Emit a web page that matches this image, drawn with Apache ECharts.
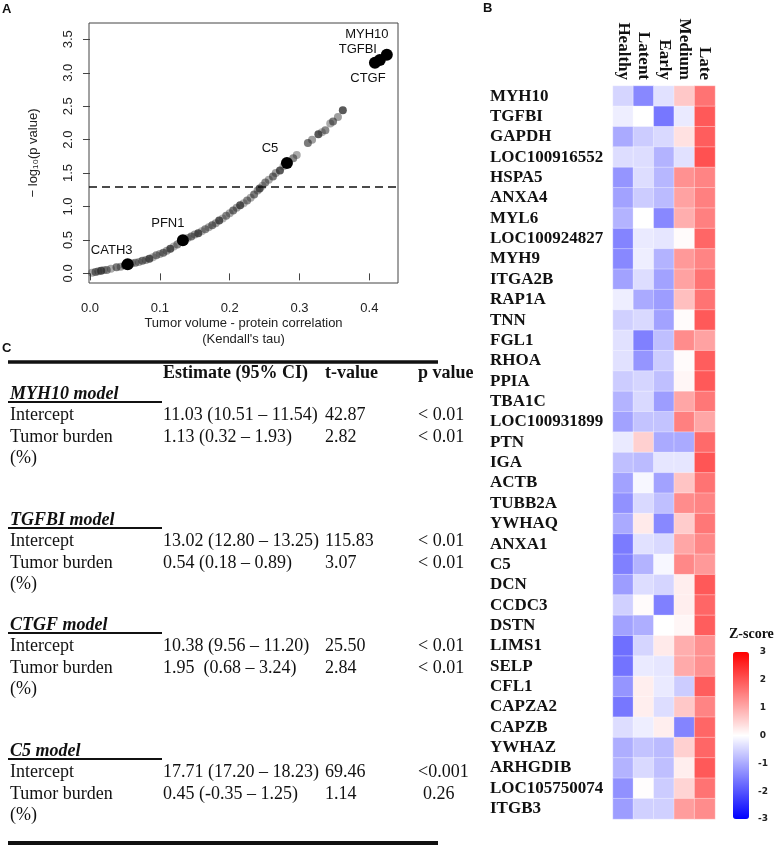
<!DOCTYPE html>
<html>
<head>
<meta charset="utf-8">
<script src="https://cdn.jsdelivr.net/npm/echarts@6/dist/echarts.min.js"></script>
<style>
html,body{margin:0;padding:0;background:#fff;}
#chart{width:776px;height:845px;}
</style>
</head>
<body>
<div id="chart"></div>
<script>
// ---------- Panel A data ----------
const scatterX = [0.003,0.008,0.012,0.016,0.020,0.024,0.030,0.038,0.044,0.050,0.060,0.065,0.070,0.075,0.080,0.085,0.090,0.095,0.100,0.105,0.110,0.115,0.120,0.125,0.140,0.145,0.150,0.155,0.160,0.165,0.170,0.175,0.180,0.185,0.190,0.195,0.200,0.205,0.210,0.215,0.220,0.225,0.230,0.235,0.240,0.243,0.247,0.251,0.256,0.262,0.266,0.272,0.277,0.291,0.296,0.312,0.318,0.327,0.332,0.337,0.344,0.348,0.355,0.362];
const scatterY = [0.01,0.02,0.03,0.04,0.05,0.05,0.07,0.09,0.10,0.12,0.15,0.16,0.17,0.19,0.20,0.22,0.24,0.27,0.29,0.31,0.34,0.37,0.40,0.43,0.53,0.55,0.58,0.60,0.63,0.66,0.69,0.72,0.75,0.79,0.82,0.86,0.90,0.94,0.98,1.02,1.05,1.09,1.13,1.18,1.24,1.27,1.31,1.36,1.40,1.45,1.50,1.54,1.60,1.72,1.77,1.95,2.00,2.08,2.11,2.14,2.24,2.27,2.34,2.44];
const highlightNames = ['CATH3','PFN1','C5','CTGF','TGFBI','MYH10'];
const highlightX = [0.054,0.133,0.282,0.408,0.415,0.425];
const highlightY = [0.135,0.495,1.65,3.15,3.19,3.27];
const xTicks = [0,0.1,0.2,0.3,0.4];
const yTicks = [0,0.5,1,1.5,2,2.5,3,3.5];
const pThreshold = 1.3;

// ---------- Panel B data ----------
const stages = ['Healthy','Latent','Early','Medium','Late'];
const genes = ['MYH10','TGFBI','GAPDH','LOC100916552','HSPA5','ANXA4','MYL6','LOC100924827','MYH9','ITGA2B','RAP1A','TNN','FGL1','RHOA','PPIA','TBA1C','LOC100931899','PTN','IGA','ACTB','TUBB2A','YWHAQ','ANXA1','C5','DCN','CCDC3','DSTN','LIMS1','SELP','CFL1','CAPZA2','CAPZB','YWHAZ','ARHGDIB','LOC105750074','ITGB3'];
const zHealthy = [-0.5,-0.2,-1.0,-0.4,-1.25,-1.1,-0.9,-1.45,-1.4,-1.1,-0.2,-0.55,-0.35,-0.35,-0.6,-0.9,-1.1,-0.25,-0.75,-1.1,-1.3,-1.0,-1.55,-1.5,-1.15,-0.55,-1.1,-1.7,-1.65,-1.25,-1.6,-0.4,-0.95,-0.9,-1.3,-1.15];
const zLatent  = [-1.4,0.0,-0.6,-0.4,-0.4,-0.6,0.0,-0.25,-0.2,-0.4,-1.0,-0.45,-1.5,-1.25,-0.5,-0.45,-0.7,0.55,-0.8,-0.1,-0.45,0.25,-0.35,-0.9,-0.4,0.05,-0.95,-0.5,-0.25,0.2,0.2,-0.2,-0.7,-0.45,0.02,-0.55];
const zEarly   = [-0.35,-1.6,-0.45,-0.9,-0.85,-0.8,-1.4,-0.3,-0.9,-1.1,-1.15,-1.1,-0.75,-0.6,-0.75,-1.15,-0.7,-1.0,-0.3,-1.1,-0.75,-1.4,-0.45,-0.1,-0.5,-1.5,0.0,0.25,-0.3,-0.25,-0.4,0.2,-0.8,-0.75,-0.6,-0.55];
const zMedium  = [0.65,-0.25,0.35,-0.35,1.3,1.1,0.95,0.05,1.2,1.1,0.75,0.05,1.35,0.05,0.1,1.05,1.5,-1.0,-0.3,0.7,1.35,0.6,1.05,1.4,0.2,0.2,0.1,0.95,1.0,-0.6,0.65,-1.45,0.55,0.2,0.5,1.15];
const zLate    = [1.65,1.95,1.9,2.05,1.45,1.5,1.5,1.8,1.45,1.65,1.65,1.95,1.1,1.9,1.95,1.6,1.05,1.75,2.0,1.65,1.45,1.6,1.4,1.2,1.95,1.8,1.9,1.3,1.3,1.9,1.45,1.8,1.8,1.95,1.65,1.35];
const zTicks = [-3,-2,-1,0,1,2,3];

// ---------- Panel C data ----------
const tableHeader = ['Estimate (95% CI)','t-value','p value'];
const modelNames = ['MYH10 model','TGFBI model','CTGF model','C5 model'];
const rowLabels = ['Intercept','Tumor burden'];
const estimates = [
  ['11.03 (10.51 \u2013 11.54)','1.13 (0.32 \u2013 1.93)'],
  ['13.02 (12.80 \u2013 13.25)','0.54 (0.18 \u2013 0.89)'],
  ['10.38 (9.56 \u2013 11.20)','1.95  (0.68 \u2013 3.24)'],
  ['17.71 (17.20 \u2013 18.23)','0.45 (-0.35 \u2013 1.25)']
];
const tValues = [['42.87','2.82'],['115.83','3.07'],['25.50','2.84'],['69.46','1.14']];
const pValues = [['< 0.01','< 0.01'],['< 0.01','< 0.01'],['< 0.01','< 0.01'],['<0.001','0.26']];

// ---------- build ----------
const chart = echarts.init(document.getElementById('chart'), null, {renderer:'canvas'});

const shadePattern = [0.4,0.62,0.45,0.78,0.35,0.55];
const grayData = scatterX.map((x,i)=>({value:[x, scatterY[i]], itemStyle:{opacity:shadePattern[i%shadePattern.length]}}));
const labelOffsets = {CATH3:[-16,-14], PFN1:[-15,-17], C5:[-17,-15], CTGF:[-7,16], TGFBI:[-22,-11], MYH10:[-20,-20]};
const hiData = highlightNames.map((n,i)=>({
  name:n, value:[highlightX[i], highlightY[i]],
  label:{show:true, position:'inside', offset:labelOffsets[n], formatter:n, color:'#111', fontSize:13, fontFamily:'Liberation Sans, Arial, sans-serif'}
}));

const heatData = [];
const cols = [zHealthy, zLatent, zEarly, zMedium, zLate];
genes.forEach((g,r)=>{ cols.forEach((c,ci)=>{ heatData.push([ci, r, c[r]]); }); });

// table graphics
const serif = 'Liberation Serif, Times New Roman, serif';
const colX = [10, 163, 325, 418];
const g = [];
function txt(x,y,s,opt){ g.push({type:'text', left:x, top:y-11, style:Object.assign({text:s, fill:'#111', font:'18px '+serif}, opt||{})}); }
const modelY = [396, 522, 627, 753];
const hdrY = 375;
tableHeader.forEach((h,i)=>txt(colX[i+1], hdrY, h, {font:'bold 18px '+serif}));
modelNames.forEach((m,k)=>{
  const y0 = modelY[k];
  txt(colX[0], y0, m, {font:'italic bold 18px '+serif});
  g.push({type:'line', shape:{x1:8,y1:y0+6,x2:162,y2:y0+6}, style:{stroke:'#111', lineWidth:2}});
  rowLabels.forEach((rl,j)=>{
    const y = y0 + 21 + j*22;
    txt(colX[0], y, rl);
    txt(colX[1], y, estimates[k][j]);
    txt(colX[2], y, tValues[k][j]);
    const pv = pValues[k][j];
    txt(colX[3] + (pv==='0.26'?5:0), y, pv);
  });
  txt(colX[0], y0 + 64, '(%)');
});
g.push({type:'line', shape:{x1:8,y1:362,x2:438,y2:362}, style:{stroke:'#111', lineWidth:3.5}});
g.push({type:'line', shape:{x1:8,y1:843,x2:438,y2:843}, style:{stroke:'#111', lineWidth:4}});
// panel letters
g.push({type:'text', left:2, top:3, style:{text:'A', font:'bold 13px Liberation Sans, Arial, sans-serif', fill:'#111'}});
g.push({type:'text', left:483, top:2, style:{text:'B', font:'bold 13px Liberation Sans, Arial, sans-serif', fill:'#111'}});
g.push({type:'text', left:2, top:342, style:{text:'C', font:'bold 13px Liberation Sans, Arial, sans-serif', fill:'#111'}});
g.push({type:'text', left:729, top:627, style:{text:'Z-score', font:'bold 14px '+serif, fill:'#111'}});

const sans = 'Liberation Sans, Arial, sans-serif';

const option = {
  backgroundColor:'#fff',
  animation:false,
  grid:[
    {left:89, top:23, width:309, height:260, show:true, borderColor:'#444', borderWidth:1},
    {left:613, top:86, width:102, height:733},
    {left:749, top:652, width:1, height:167}
  ],
  xAxis:[
    {gridIndex:0, type:'value', min:-0.0014, max:0.441,
     name:"Tumor volume - protein correlation\n(Kendall's tau)", nameLocation:'middle', nameGap:31,
     nameTextStyle:{fontSize:13, fontFamily:sans, color:'#222', lineHeight:16},
     axisLine:{show:false}, splitLine:{show:false},
     axisTick:{show:true, length:7, lineStyle:{color:'#444'}, customValues:xTicks},
     axisLabel:{fontSize:13, fontFamily:sans, color:'#222', margin:19, customValues:xTicks, formatter:v=>v.toFixed(1)}},
    {gridIndex:1, type:'category', data:stages, position:'top',
     axisLine:{show:false}, axisTick:{show:false},
     axisLabel:{rotate:90, margin:6, fontSize:17, fontWeight:'bold', fontFamily:serif, color:'#111', interval:0}},
    {gridIndex:2, type:'value', show:false}
  ],
  yAxis:[
    {gridIndex:0, type:'value', min:-0.144, max:3.744,
     name:'\u2212 log\u2081\u2080(p value)', nameLocation:'middle', nameGap:49,
     nameTextStyle:{fontSize:13, fontFamily:sans, color:'#222'},
     axisLine:{show:false}, splitLine:{show:false},
     axisTick:{show:true, length:7, lineStyle:{color:'#444'}, customValues:yTicks},
     axisLabel:{rotate:90, fontSize:13, fontFamily:sans, color:'#222', margin:14, customValues:yTicks, formatter:v=>v.toFixed(1)}},
    {gridIndex:1, type:'category', data:genes, inverse:true,
     axisLine:{show:false}, axisTick:{show:false},
     axisLabel:{align:'left', margin:123, fontSize:17, fontWeight:'bold', fontFamily:serif, color:'#111', interval:0}},
    {gridIndex:2, type:'value', position:'right', min:-3, max:3, interval:1,
     axisLine:{show:false}, axisTick:{show:false}, splitLine:{show:false},
     axisLabel:{align:'center', margin:13, fontSize:9, fontWeight:'bold', fontFamily:'DejaVu Sans, sans-serif', color:'#222', customValues:zTicks}}
  ],
  visualMap:{
    type:'continuous', min:-3, max:3, seriesIndex:2, orient:'vertical',
    left:733, top:652, itemWidth:16, itemHeight:167, padding:0,
    calculable:false, show:true, text:null, showLabel:false, hoverLink:false,
    inRange:{color:['#0000ff','#ffffff','#ff0000']}
  },
  series:[
    {type:'scatter', xAxisIndex:0, yAxisIndex:0, data:grayData, symbolSize:8,
     itemStyle:{color:'#2a2a2a'}, z:2,
     markLine:{silent:true, symbol:'none', label:{show:false},
       lineStyle:{color:'#111', type:[8,5], width:1.5},
       data:[{yAxis:pThreshold}]}},
    {type:'scatter', xAxisIndex:0, yAxisIndex:0, data:hiData, symbolSize:12,
     itemStyle:{color:'#000', opacity:1}, z:3},
    {type:'heatmap', xAxisIndex:1, yAxisIndex:1, data:heatData,
     itemStyle:{borderColor:'rgba(255,255,255,0.35)', borderWidth:1}}
  ],
  graphic:g
};
chart.setOption(option);
</script>
</body>
</html>
